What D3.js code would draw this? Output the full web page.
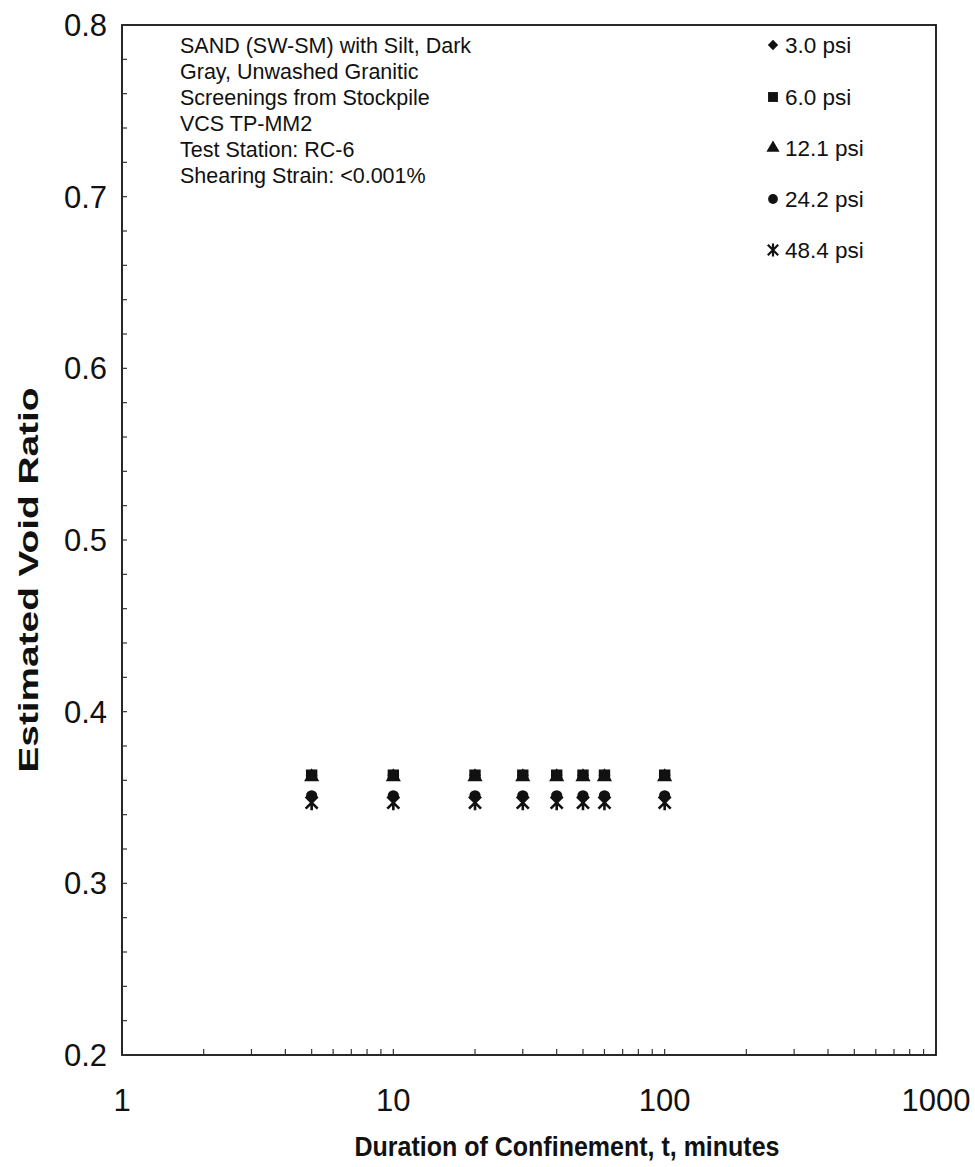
<!DOCTYPE html>
<html><head><meta charset="utf-8">
<script src="https://cdn.jsdelivr.net/npm/d3@7"></script>
<style>body{margin:0;background:#fff;} text{font-family:"Liberation Sans",Arial,sans-serif;}</style>
</head><body>
<svg id="chart" width="975" height="1167"></svg>
<script>
const times = [5, 10, 20, 30, 40, 50, 60, 100];
const seriesNames = ["3.0 psi", "6.0 psi", "12.1 psi", "24.2 psi", "48.4 psi"];
const v3_0  = [0.363, 0.363, 0.363, 0.363, 0.363, 0.363, 0.363, 0.363];
const v6_0  = [0.363, 0.363, 0.363, 0.363, 0.363, 0.363, 0.363, 0.363];
const v12_1 = [0.362, 0.362, 0.362, 0.362, 0.362, 0.362, 0.362, 0.362];
const v24_2 = [0.351, 0.351, 0.351, 0.351, 0.351, 0.351, 0.351, 0.351];
const v48_4 = [0.347, 0.347, 0.347, 0.347, 0.347, 0.347, 0.347, 0.347];
const xTickLabels = ["1", "10", "100", "1000"];
const yTickLabels = ["0.2", "0.3", "0.4", "0.5", "0.6", "0.7", "0.8"];
const annotation = ["SAND (SW-SM) with Silt, Dark", "Gray, Unwashed Granitic", "Screenings from Stockpile", "VCS TP-MM2", "Test Station: RC-6", "Shearing Strain: <0.001%"];

const seriesValues = [v3_0, v6_0, v12_1, v24_2, v48_4];
const diamondSym = d3.symbolDiamond2 || d3.symbolDiamond;
const symbols = [diamondSym, d3.symbolSquare, d3.symbolTriangle, d3.symbolCircle, null];
const symSizes = [90, 130, 100, 100, 0];

const svg = d3.select("#chart");
const L = 122, R = 936, T = 25, B = 1055;
const x = d3.scaleLog().domain([1, 1000]).range([L, R]);
const y = d3.scaleLinear().domain([0.2, 0.8]).range([B, T]);

// frame
svg.append("rect").attr("x", L).attr("y", T).attr("width", R - L).attr("height", B - T)
  .attr("fill", "none").attr("stroke", "#111").attr("stroke-width", 1.8);

// y ticks (inside) every 0.02
const yMinor = d3.range(0, 31).map(i => 0.2 + i * 0.02);
svg.append("g").selectAll("line").data(yMinor).join("line")
  .attr("x1", L).attr("x2", L + 5).attr("y1", d => y(d)).attr("y2", d => y(d))
  .attr("stroke", "#333").attr("stroke-width", 1.2);
// y labels
svg.append("g").selectAll("text").data(yTickLabels).join("text")
  .attr("x", 107).attr("y", d => y(+d) + 11).attr("text-anchor", "end")
  .attr("font-size", 31).attr("fill", "#111").text(d => d);

// x ticks (inside)
const xMinor = [];
[1, 10, 100].forEach(dec => { for (let k = 2; k <= 10; k++) xMinor.push(dec * k); });
svg.append("g").selectAll("line").data(xMinor.filter(d => d < 1000)).join("line")
  .attr("x1", d => x(d)).attr("x2", d => x(d)).attr("y1", B).attr("y2", B - 6)
  .attr("stroke", "#333").attr("stroke-width", 1.2);
svg.append("g").selectAll("text").data(xTickLabels).join("text")
  .attr("x", d => x(+d)).attr("y", 1111).attr("text-anchor", "middle")
  .attr("font-size", 31).attr("fill", "#111").text(d => d);

// axis titles
svg.append("text").attr("x", 567).attr("y", 1156).attr("text-anchor", "middle")
  .attr("font-size", 28).attr("font-weight", "bold").attr("fill", "#111")
  .attr("textLength", 425).attr("lengthAdjust", "spacingAndGlyphs")
  .text("Duration of Confinement, t, minutes");
svg.append("text").attr("transform", `translate(38,580) rotate(-90)`)
  .attr("text-anchor", "middle").attr("font-size", 28).attr("font-weight", "bold").attr("fill", "#111")
  .attr("textLength", 385).attr("lengthAdjust", "spacingAndGlyphs")
  .text("Estimated Void Ratio");

// annotation
svg.append("g").selectAll("text").data(annotation).join("text")
  .attr("x", 180).attr("y", (d, i) => 53 + i * 26).attr("font-size", 21.5).attr("fill", "#111").text(d => d);

function starPath(cx, cy, r) {
  return `M${cx},${cy - r}L${cx},${cy + r}M${cx - r * 0.8},${cy - r * 0.8}L${cx + r * 0.8},${cy + r * 0.8}M${cx - r * 0.8},${cy + r * 0.8}L${cx + r * 0.8},${cy - r * 0.8}`;
}

// data markers
seriesValues.forEach((vals, si) => {
  const g = svg.append("g");
  const pts = times.map((t, i) => ({ t, v: vals[i] }));
  if (symbols[si]) {
    g.selectAll("path").data(pts).join("path")
      .attr("transform", d => `translate(${x(d.t)},${y(d.v)})`)
      .attr("d", d3.symbol(symbols[si], symSizes[si])).attr("fill", "#111");
  } else {
    g.selectAll("path").data(pts).join("path")
      .attr("d", d => starPath(x(d.t), y(d.v), 7.5)).attr("stroke", "#111").attr("stroke-width", 2.6).attr("fill", "none");
  }
});

// legend
const legY = [45, 97, 148, 199, 250];
const lg = svg.append("g");
seriesNames.forEach((name, i) => {
  const cx = 773, cy = legY[i];
  if (symbols[i]) {
    lg.append("path").attr("transform", `translate(${cx},${cy})`)
      .attr("d", d3.symbol(symbols[i], symSizes[i] * 0.75)).attr("fill", "#111");
  } else {
    lg.append("path").attr("d", starPath(cx, cy, 6.5)).attr("stroke", "#111").attr("stroke-width", 2.2).attr("fill", "none");
  }
  lg.append("text").attr("x", 785).attr("y", cy + 8).attr("font-size", 22.5).attr("fill", "#111").text(name);
});
</script>
</body></html>
